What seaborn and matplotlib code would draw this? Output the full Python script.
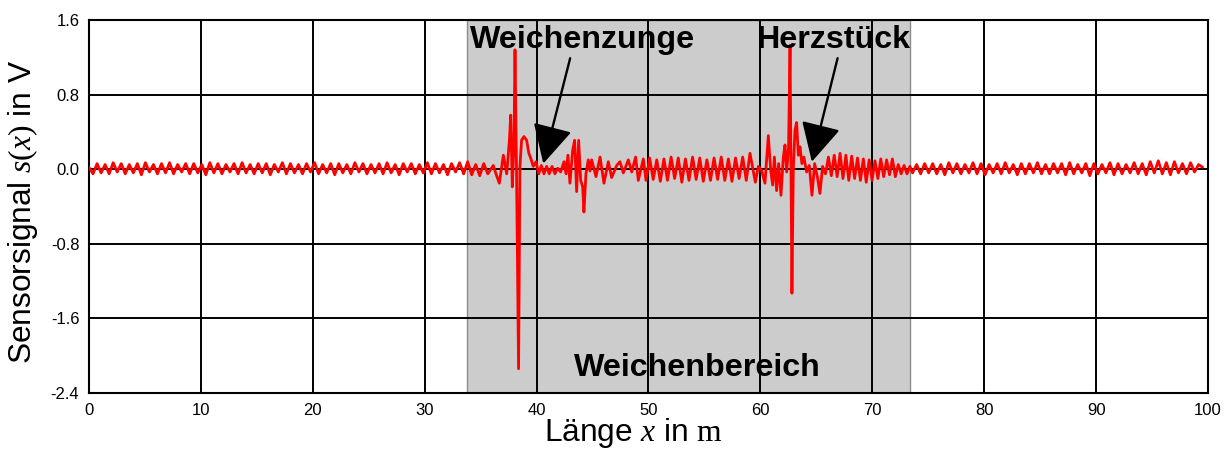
import numpy as np
import pandas as pd
import matplotlib
matplotlib.use("Agg")
import matplotlib.pyplot as plt
import seaborn as sns

# ---- measured sensor signal s(x) along the track ----
# plain track before the switch, sampled every 0.36 m starting at x = 0
lead_step = 0.36
lead_s = [
    0.02, -0.05, 0.06, -0.04, 0.05, -0.05, 0.07, -0.03, 0.06, -0.05,
    0.05, -0.04, 0.06, -0.06, 0.07, -0.03, 0.05, -0.05, 0.06, -0.04,
    0.07, -0.05, 0.05, -0.03, 0.06, -0.05, 0.06, -0.04, 0.05, -0.06,
    0.07, -0.04, 0.06, -0.05, 0.05, -0.03, 0.06, -0.05, 0.07, -0.04,
    0.05, -0.05, 0.06, -0.04, 0.06, -0.06, 0.05, -0.03, 0.07, -0.05,
    0.06, -0.04, 0.05, -0.05, 0.06, -0.03, 0.07, -0.05, 0.05, -0.04,
    0.06, -0.06, 0.06, -0.04, 0.05, -0.05, 0.07, -0.03, 0.06, -0.05,
    0.05, -0.04, 0.06, -0.05, 0.07, -0.04, 0.05, -0.06, 0.06, -0.03,
    0.06, -0.05, 0.05, -0.04, 0.07, -0.05, 0.06, -0.04, 0.05, -0.06,
    0.06, -0.03, 0.07, -0.05, 0.08, -0.06, 0.05, -0.07, 0.06, -0.05,
]

# switch area (tongue and frog), irregular sample positions
switch_x = [
    36.13, 36.40, 36.67, 37.03, 37.33, 37.57, 37.69, 37.83, 37.98, 38.07,
    38.21, 38.30, 38.39, 38.51, 38.66, 38.87, 39.11, 39.31, 39.50, 39.70,
    39.95, 40.19, 40.42, 40.66, 40.90, 41.13, 41.38, 41.64, 41.88, 42.15,
    42.45, 42.63, 42.80, 42.98, 43.22, 43.40, 43.58, 43.76, 43.94, 44.12,
    44.23, 44.41, 44.62, 44.77, 44.92, 45.31, 45.67, 46.02, 46.41, 46.71,
    47.16, 47.45, 47.75, 48.20, 48.50, 48.85, 49.09, 49.54, 49.78,
    50.10, 50.42, 50.74, 51.06, 51.38, 51.70, 52.02, 52.34, 52.66, 52.98,
    53.30, 53.62, 53.94, 54.26, 54.58, 54.90, 55.22, 55.54, 55.86, 56.18,
    56.50, 56.82, 57.14, 57.46, 57.78, 58.10, 58.42, 58.74,
    59.07, 59.55, 59.82, 60.10, 60.41, 60.71, 60.92, 61.10, 61.25, 61.45,
    61.63, 61.84, 62.05, 62.20, 62.35, 62.52, 62.65, 62.74, 62.82, 62.94,
    63.09, 63.24, 63.39, 63.54, 63.71, 63.89, 64.13, 64.37, 64.61, 64.85,
    65.09, 65.32, 65.56, 65.82, 66.08, 66.34, 66.60, 66.86, 67.12, 67.38,
    67.64, 67.90, 68.16, 68.42, 68.68, 68.94, 69.20, 69.46, 69.72, 69.98,
    70.24, 70.50, 70.76, 71.02, 71.28, 71.54, 71.80, 72.06, 72.32, 72.58,
    72.84, 73.10, 73.36,
]
switch_s = [
    0.04, -0.06, -0.15, 0.15, -0.05, 0.31, 0.58, -0.19, 0.28, 1.28,
    -0.05, -1.12, -2.14, 0.03, 0.31, 0.35, 0.31, 0.17, 0.11, 0.03,
    0.08, -0.05, 0.04, -0.05, 0.03, -0.05, 0.03, -0.05, 0.01, -0.03,
    0.08, -0.05, 0.15, -0.15, 0.20, 0.31, -0.24, 0.31, -0.12, -0.19,
    -0.46, -0.05, 0.10, -0.02, 0.10, -0.08, 0.13, -0.15, 0.08, -0.09,
    0.04, 0.08, -0.04, 0.10, -0.03, 0.13, -0.12, 0.11, -0.12,
    0.12, -0.11, 0.10, -0.13, 0.11, -0.12, 0.13, -0.10, 0.12, -0.14,
    0.11, -0.12, 0.13, -0.11, 0.12, -0.13, 0.10, -0.12, 0.12, -0.11,
    0.13, -0.12, 0.11, -0.13, 0.12, -0.10, 0.13, -0.12,
    0.17, -0.14, 0.03, -0.01, -0.15, 0.36, -0.01, -0.17, 0.13, -0.23,
    0.06, -0.28, 0.13, 0.26, -0.03, 0.24, 1.33, -0.05, -1.33, -0.01,
    0.42, 0.50, 0.15, 0.24, 0.06, 0.13, -0.03, 0.04, -0.28, 0.06,
    -0.08, -0.26, 0.03, -0.05, 0.13, -0.07, 0.15, -0.08, 0.17, -0.10,
    0.15, -0.12, 0.14, -0.10, 0.12, -0.12, 0.11, -0.14, 0.10, -0.12,
    0.09, -0.10, 0.11, -0.08, 0.10, -0.06, 0.11, -0.08, 0.05, -0.05,
    0.04, -0.05, 0.03,
]

# plain track after the switch, sampled every 0.36 m from x = 73.6
tail_start = 73.6
tail_step = 0.36
tail_s = [
    -0.04, 0.05, -0.05, 0.06, -0.04, 0.06, -0.05, 0.05, -0.06, 0.07,
    -0.04, 0.06, -0.05, 0.05, -0.04, 0.07, -0.05, 0.06, -0.06, 0.05,
    -0.04, 0.06, -0.05, 0.07, -0.04, 0.05, -0.06, 0.06, -0.05, 0.06,
    -0.04, 0.07, -0.05, 0.05, -0.05, 0.06, -0.04, 0.06, -0.06, 0.07,
    -0.05, 0.05, -0.04, 0.06, -0.07, 0.06, -0.05, 0.05, -0.04, 0.07,
    -0.06, 0.06, -0.05, 0.05, -0.04, 0.07, -0.05, 0.06, -0.06, 0.08,
    -0.04, 0.09, -0.05, 0.07, -0.06, 0.08, -0.04, 0.06, -0.05, 0.07,
    -0.03, 0.05, 0.02,
]

# switch area boundaries (m)
switch_start, switch_end = 33.8, 73.4

x_ticks = [0, 10, 20, 30, 40, 50, 60, 70, 80, 90, 100]
y_ticks = [-2.4, -1.6, -0.8, 0.0, 0.8, 1.6]

lead_x = np.arange(len(lead_s)) * lead_step
tail_x = tail_start + np.arange(len(tail_s)) * tail_step
df = pd.DataFrame({
    "x": np.concatenate([lead_x, switch_x, tail_x]),
    "s": np.concatenate([lead_s, switch_s, tail_s]),
})

# ---- styling ----
sns.set_style("white")
plt.rcParams["font.family"] = ["Liberation Sans", "DejaVu Sans"]
plt.rcParams["text.color"] = "black"
plt.rcParams["axes.labelcolor"] = "black"
plt.rcParams["axes.unicode_minus"] = False
plt.rcParams["mathtext.fontset"] = "custom"
plt.rcParams["mathtext.rm"] = "Liberation Serif"
plt.rcParams["mathtext.it"] = "Liberation Serif:italic"

fig = plt.figure(figsize=(12.31, 4.5), dpi=100)
ax = fig.add_axes([0.0723, 0.1267, 0.9090, 0.8289])

ax.axvspan(switch_start, switch_end, facecolor="#cccccc", edgecolor="#8c8c8c",
           linewidth=1.0, zorder=1)

sns.lineplot(data=df, x="x", y="s", color="#ff0000", linewidth=2.0,
             estimator=None, sort=False, ax=ax, zorder=3)

ax.set_xlim(0, 100)
ax.set_ylim(-2.4, 1.6)
ax.set_xticks(x_ticks)
ax.set_xticklabels([str(t) for t in x_ticks])
ax.set_yticks(y_ticks)
ax.set_yticklabels([f"{t:.1f}" for t in y_ticks])

ax.grid(True, color="black", linewidth=1.4)
ax.set_axisbelow("line")
for sp in ax.spines.values():
    sp.set_color("black")
    sp.set_linewidth(1.5)
ax.tick_params(axis="both", direction="out", length=5, width=1.5,
               colors="black", labelsize=12, pad=2)

ax.set_xlabel(r"Länge $x$ in $\mathrm{m}$", fontsize=22.8, color="black")
ax.set_ylabel(r"Sensorsignal $s(x)$ in V", fontsize=22.8, color="black")
ax.xaxis.set_label_coords(0.487, -0.062)
ax.yaxis.set_label_coords(-0.044, 0.485)

arrow = dict(arrowstyle="-|>,head_length=1.2,head_width=0.62",
             mutation_scale=20, color="black", lw=1.7,
             shrinkA=0, shrinkB=0)
ax.annotate("", xy=(40.6, 0.06), xytext=(43.0, 1.19), arrowprops=arrow, zorder=4)
ax.annotate("", xy=(64.6, 0.08), xytext=(66.9, 1.19), arrowprops=arrow, zorder=4)

ax.text(44.1, 1.38, "Weichenzunge", fontsize=23.2, fontweight="bold",
        ha="center", va="center", color="black", zorder=5)
ax.text(66.6, 1.38, "Herzstück", fontsize=23.2, fontweight="bold",
        ha="center", va="center", color="black", zorder=5)
ax.text(54.4, -2.13, "Weichenbereich", fontsize=23.2, fontweight="bold",
        ha="center", va="center", color="black", zorder=5)

fig.savefig("out.png", dpi=100)
